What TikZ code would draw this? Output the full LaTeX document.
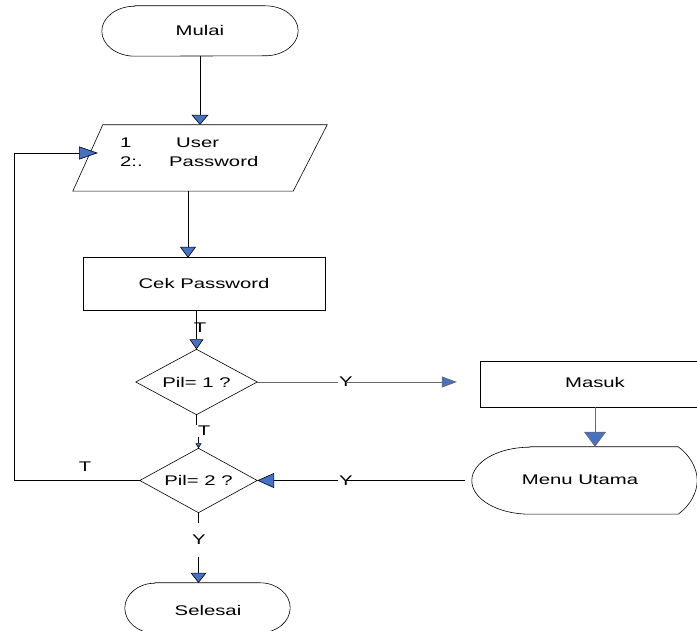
\documentclass[tikz,border=0pt]{standalone}
\usepackage{fontspec}
\setmainfont{Liberation Sans}[FakeStretch=1.45]
\usetikzlibrary{arrows.meta,calc}
\definecolor{tipblue}{RGB}{68,114,196}
\definecolor{linegray}{RGB}{105,105,105}

% outline of a start/end capsule around a (borderless) node
\newcommand\termshape[2]{%
  \draw[flow] ([xshift=#2pt]#1.north west) -- ([xshift=-#2pt]#1.north east)
    arc[start angle=90,end angle=-90,x radius=#2pt,y radius=25pt]
    -- ([xshift=#2pt]#1.south west)
    arc[start angle=270,end angle=90,x radius=#2pt,y radius=25pt] -- cycle;}

\tikzset{
  txt/.style={font=\fontsize{14}{16}\selectfont, inner sep=1pt},
  frame/.style={draw=none, inner sep=0pt, font=\fontsize{14}{16}\selectfont,
    minimum width=#1},
  flow/.style={draw=black, line width=0.6pt},
  grayflow/.style={draw=linegray, line width=0.8pt},
  headto/.style n args={2}{-{Triangle[length=#1pt,width=#2pt,fill=tipblue]}},
}

\begin{document}
\begin{tikzpicture}[x=1pt,y=1pt]
\useasboundingbox (0,0) rectangle (697,631);

% ---- nodes ----
\node[frame=196pt, minimum height=50pt] (mulai) at (200,600) {Mulai};
\node[frame=254pt, minimum height=66pt] (io) at (200,473) {};
\node[txt, anchor=west] (n1)   at (119,488) {1};
\node[txt, anchor=west] (user) at (175,488) {User};
\node[txt, anchor=west] (n2)   at (119,469) {2:.};
\node[txt, anchor=west] (pass) at (168,469) {Password};
\node[frame=242pt, minimum height=52pt] (cek) at (204,347) {Cek Password};
\node[frame=121pt, minimum height=65pt] (pil1) at (196.5,249) {Pil= 1 ?};
\node[frame=230pt, minimum height=45pt] (masuk) at (595,246.5) {};
\node[txt] (masuktxt) at (595,248) {Masuk};
\node[frame=225pt, minimum height=67pt] (menu) at (584.5,150.5) {};
\node[txt] (menutxt) at (580,151) {Menu Utama};
\node[frame=117pt, minimum height=64pt] (pil2) at (198.5,150.5) {Pil= 2 ?};
\node[frame=165pt, minimum height=50pt] (selesai) at (207.5,23) {};
\node[txt] (selesaitxt) at (208,20) {Selesai};

% ---- shape outlines ----
\termshape{mulai}{33}
\termshape{selesai}{30}
\draw[flow] ($(io.north west)+(30,0)$) -- (io.north east)
  -- ($(io.south east)+(-34,0)$) -- (io.south west) -- cycle;
\draw[flow] (cek.north west) rectangle (cek.south east);
\draw[flow] (pil1.north) -- (pil1.east) -- (pil1.south) -- (pil1.west) -- cycle;
\draw[flow] (pil2.north) -- (pil2.east) -- (pil2.south) -- (pil2.west) -- cycle;
\draw[flow] (masuk.south east) -- (masuk.south west) -- (masuk.north west) -- (masuk.north east);
\draw[flow] ($(menu.north west)+(58,0)$) -- ($(menu.north east)+(-19,0)$)
  .. controls ($(menu.east)+(-7,25)$) and ($(menu.east)+(0,12)$) .. (menu.east)
  .. controls ($(menu.east)+(0,-12)$) and ($(menu.east)+(-7,-25)$) .. ($(menu.south east)+(-19,0)$)
  -- ($(menu.south west)+(58,0)$)
  arc[start angle=270,end angle=90,x radius=58pt,y radius=33.5pt] -- cycle;

% ---- labels on connectors ----
\node[txt] (t1) at (200,303) {T};
\node[txt] (y1) at (346,249) {Y};
\node[txt, minimum height=12pt] (t2) at (204,200) {T};
\node[txt] (y2) at (346,150.5) {Y};
\node[txt] (t3) at (85,164) {T};
\node[txt, minimum height=33pt] (y3) at (199,91) {Y};

% ---- connectors ----
\coordinate (iobot) at ($(io.south)+(-12,0)$);
\coordinate (ioin) at (98,478);
\coordinate (rail) at (14,478);
\coordinate (masukin) at ($(masuk.west)+(-23,2.5)$);
\coordinate (menuout) at ($(menu.west)+(-7,0)$);

\draw[flow, headto={10}{17}] (mulai.south) -- (mulai.south |- io.north);
\draw[flow, headto={11}{16}] (iobot) -- (iobot |- cek.north);
\draw[flow, headto={10}{14}] (pil1.north |- cek.south) -- (pil1.north);
\draw[grayflow] (pil1.east) -- (y1.west);
\draw[grayflow, headto={15}{11}] (y1.center) -- (masukin);
\draw[grayflow, headto={15}{22}] (masuk.south) -- (masuk.south |- menu.north);
\draw[flow] (menuout) -- (y2.center);
\draw[flow, headto={17}{15}] (y2.west) -- (pil2.east);
\draw[flow] (pil1.south) -- (pil1.south |- t2.north);
\draw[flow, headto={5}{6}] (pil2.north |- t2.south) -- (pil2.north);
\draw[flow, headto={19}{13}] (pil2.west) -| (rail) -- (ioin);
\draw[flow] (pil2.south) -- (pil2.south |- y3.north);
\draw[flow, headto={10}{16}] (pil2.south |- y3.south) -- (pil2.south |- selesai.north);
\end{tikzpicture}
\end{document}
